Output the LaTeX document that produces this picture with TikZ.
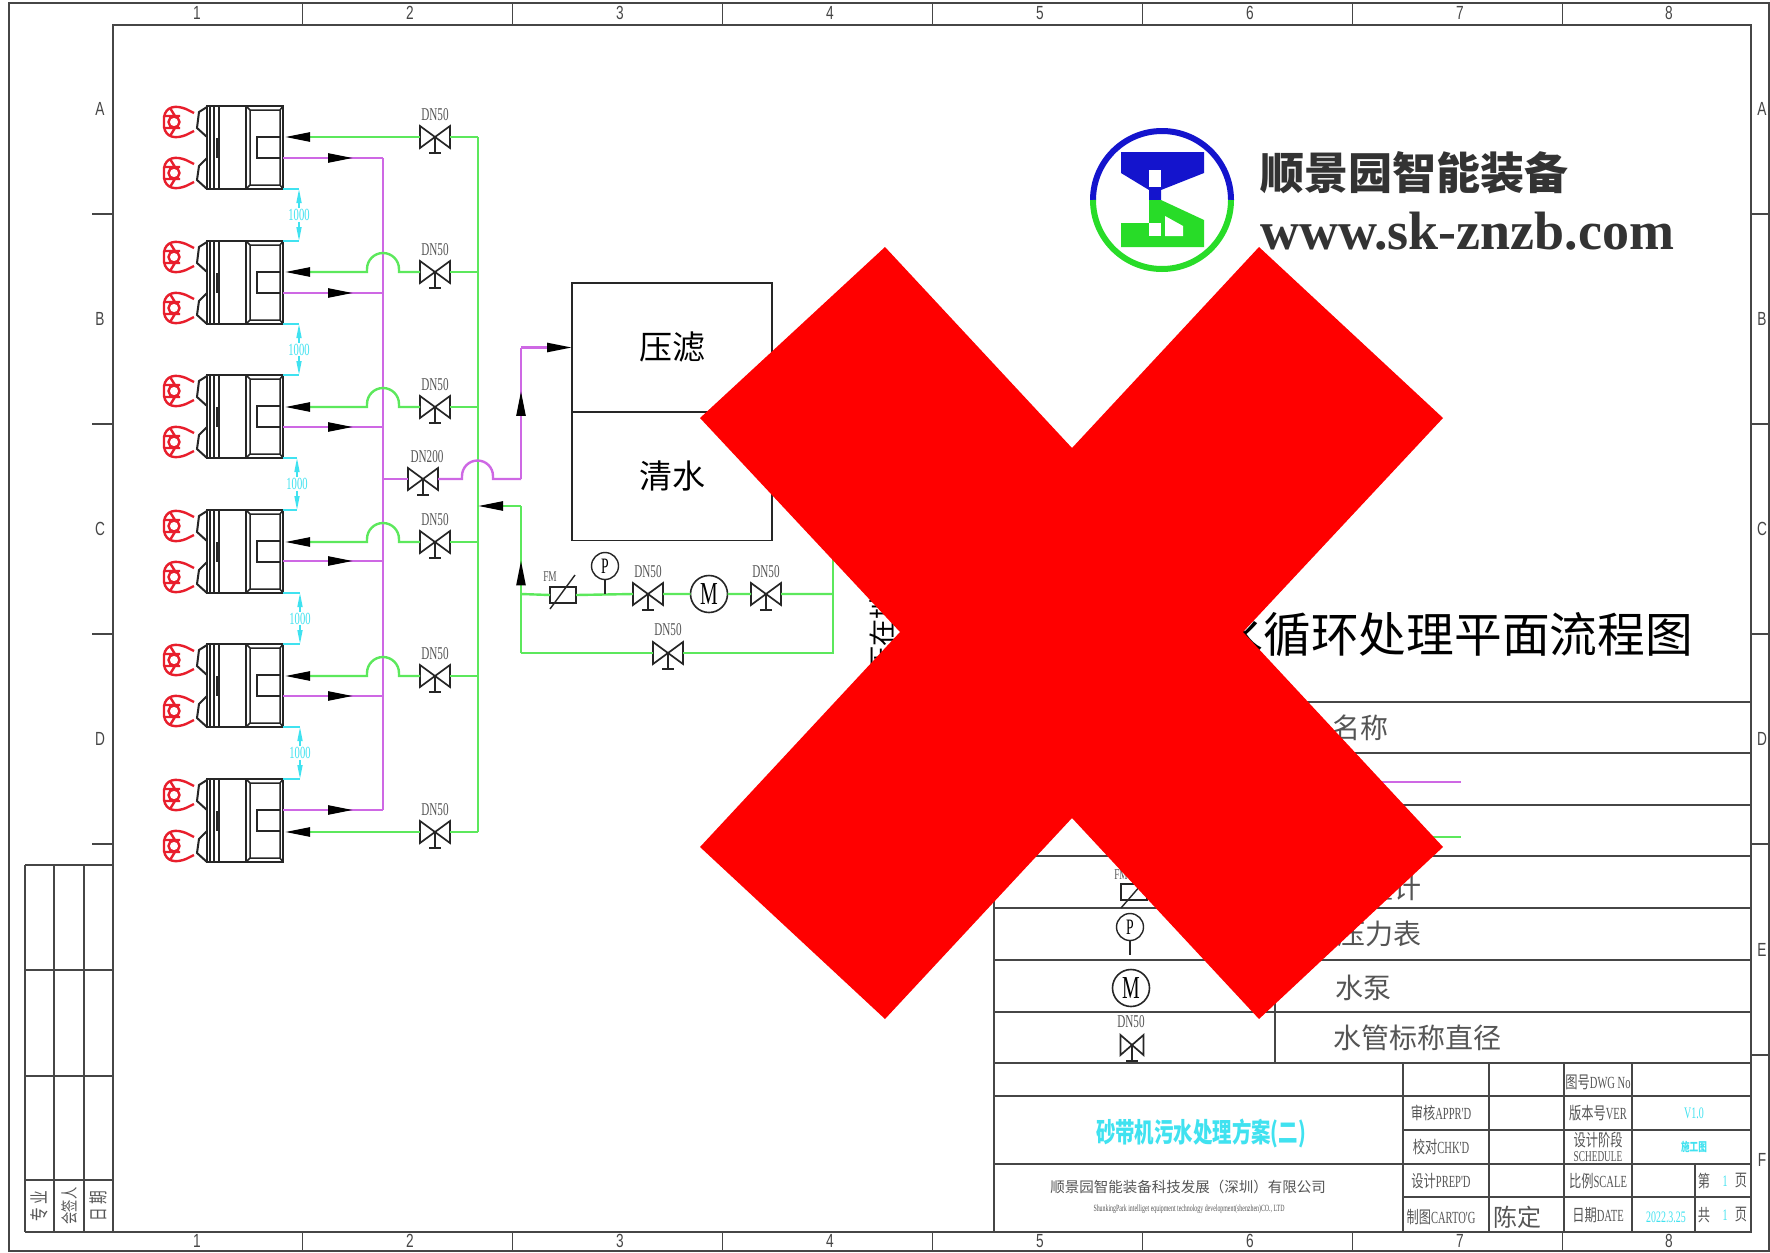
\documentclass[tikz,border=0pt]{standalone}
\usepackage{fontspec}
\usepackage{tikz}
\usetikzlibrary{arrows.meta,decorations.markings}
\setmainfont{Liberation Sans}
\newfontfamily\cjk{Noto Sans CJK SC}
\newfontfamily\cjkn[FakeStretch=0.72]{Noto Sans CJK SC}
\newfontfamily\dnfont[FakeStretch=0.62]{Liberation Serif}
\newfontfamily\edgefont[FakeStretch=0.72]{Liberation Sans}
\newfontfamily\webfont{Liberation Serif}
\definecolor{pipegreen}{RGB}{92, 232, 92}
\definecolor{pipeviolet}{RGB}{206, 104, 228}
\definecolor{dimcyan}{RGB}{64, 226, 240}
\definecolor{gripred}{RGB}{232, 30, 44}
\definecolor{framegray}{RGB}{70, 70, 70}
\definecolor{textgray}{RGB}{85, 85, 85}
\definecolor{logoblue}{RGB}{20, 20, 205}
\definecolor{logogreen}{RGB}{40, 220, 40}
\definecolor{crossred}{RGB}{255, 0, 0}
\newcommand{\sz}[1]{\fontsize{#1}{#1}\selectfont}
\tikzset{
  greenpipe/.style={draw=pipegreen, line width=2.4pt},
  violetpipe/.style={draw=pipeviolet, line width=2.4pt},
  flowtip/.style={-{Stealth[length=25pt,width=9pt,inset=0pt,color=black]}},
  flowat/.style={postaction={decorate}, decoration={markings,
      mark=at position #1 with {\arrow{Stealth[length=25pt,width=9pt,inset=0pt,color=black]}}}},
  frameline/.style={draw=framegray, line width=1.8pt},
  thinline/.style={draw=black!85, line width=1.4pt},
  valvebox/.style={inner sep=0pt, outer sep=0pt, minimum width=30pt, minimum height=22pt},
  unitbody/.style={draw=black!85, line width=2pt, inner sep=0pt, outer sep=0pt, minimum width=76pt, minimum height=83pt},
  tank/.style={draw=black!85, line width=1.6pt, inner sep=0pt, outer sep=0pt, minimum width=200pt, minimum height=129pt, font=\cjk\sz{33}},
  gauge/.style={circle, draw=black!85, line width=1.4pt, fill=white, inner sep=0pt, outer sep=0pt, minimum size=27pt, font=\dnfont\sz{22}},
  pump/.style={circle, draw=black!85, line width=1.6pt, fill=white, inner sep=0pt, outer sep=0pt, minimum size=37pt, font=\dnfont\sz{32}},
  flowmeter/.style={draw=black!85, line width=1.6pt, fill=white, inner sep=0pt, outer sep=0pt, minimum width=26pt, minimum height=16pt},
  dnlabel/.style={font=\dnfont\sz{18}, text=textgray, inner sep=0pt},
  dimlabel/.style={font=\dnfont\sz{17}, text=dimcyan, inner sep=1pt},
  dimline/.style={draw=dimcyan, line width=1.6pt, -{Stealth[length=14pt,width=5pt,inset=0pt]}},
  edgelabel/.style={font=\edgefont\sz{19}, text=framegray, inner sep=0pt},
  blockcn/.style={font=\cjkn\sz{17}, text=textgray, inner sep=0pt},
  blockfill/.style={font=\dnfont\sz{16}, text=dimcyan, inner sep=0pt},
  legendtext/.style={font=\cjk\sz{28}, text=textgray, anchor=west, inner sep=0pt}
}
% valve: optional node keys, name, centre
\newcommand{\valve}[3][]{%
  \node[valvebox,#1] (#2) at (#3) {};
  \draw[thinline, line width=1.7pt, fill=white] (#2.north west) -- (#2.south east) -- (#2.north east) -- (#2.south west) -- cycle;
  \draw[thinline] (#2.center) -- ++(0,16) ++(-6,0) -- ++(12,0);
}
% gripper head in front of a unit
\newcommand{\gripper}[2]{%
  \begin{scope}[shift={(#1,#2)}, draw=gripred, line width=2.4pt]
    \draw (16,-9) -- (8,-13) .. controls (-2,-17) and (-12,-16) .. (-14,-5) -- (-14,5) .. controls (-12,16) and (-2,17) .. (8,13) -- (16,9);
    \draw (-4,0) circle (5.5);
    \draw (-14,-6) -- (2,-6) (-14,6) -- (2,6) (-8,-14) -- (-3,-6) (-8,14) -- (-3,6);
  \end{scope}
}
% sander unit: name, top edge
\newcommand{\unit}[2]{%
  \node[unitbody] (#1) at (245,#2+41.5) {};
  \begin{scope}[shift={(207,#2)}, black!85, line width=1.5pt]
    \draw (3,0) -- (3,83) (7,0) -- (7,83);
    \draw[line width=2.2pt] (12,0) -- (12,83) (39,0) -- (39,83);
    \draw (43,4) rectangle (73,79) (39,0) -- (43,4) (76,0) -- (73,4) (39,83) -- (43,79) (76,83) -- (73,79);
    \draw (73,31) -- (50,31) -- (50,52) -- (73,52);
    \draw[line width=3pt] (10,32) -- (10,52);
    \draw[line width=2pt] (0,1) -- (-8,6) -- (-10,22) -- (0,31) (0,52) -- (-8,60) -- (-10,74) -- (0,83);
  \end{scope}
  \gripper{178}{#2+16}
  \gripper{178}{#2+67}
}
\begin{document}
\begin{tikzpicture}[x=1pt, y=-1pt]
  \useasboundingbox (0,0) rectangle (1770,1253);
  \fill[white] (0,0) rectangle (1770,1253);
  % Drawing frame
  \draw[frameline] (9,3) rectangle (1769,1251);
  \draw[frameline] (113,25) rectangle (1751,1232);
  \foreach \x in {302.5,512.5,722.5,932.5,1142.5,1352.5,1562.5} {
    \draw[frameline] (\x,3) -- (\x,25) (\x,1232) -- (\x,1251);
  }
  \foreach \y in {214,424,634,844} {\draw[frameline] (92,\y) -- (113,\y);}
  \foreach \y in {214,424,634,844,1055} {\draw[frameline] (1751,\y) -- (1769,\y);}
  \foreach \n/\x in {1/197,2/410,3/620,4/830,5/1040,6/1250,7/1460,8/1669} {
    \node[edgelabel] (top\n) at (\x,13) {\n};
    \node[edgelabel] (bottom\n) at (\x,1241) {\n};
  }
  \foreach \l/\y in {A/109,B/319,C/529,D/739} {\node[edgelabel] (left\l) at (100,\y) {\l};}
  \foreach \l/\y in {A/109,B/319,C/529,D/739,E/950,F/1160} {\node[edgelabel] (right\l) at (1762,\y) {\l};}
  % Sign-off strip
  \foreach \x in {25,54,84} {\draw[frameline] (\x,865) -- (\x,1232);}
  \foreach \y in {865,970,1076,1180,1232} {\draw[frameline] (25,\y) -- (113,\y);}
  \node[blockcn, rotate=90, font=\cjkn\sz{19}] (signa) at (39.5,1206) {专\hspace{4pt}业};
  \node[blockcn, rotate=90, font=\cjkn\sz{17}] (signb) at (69,1206) {会签人};
  \node[blockcn, rotate=90, font=\cjkn\sz{19}] (signc) at (98.5,1206) {日\hspace{4pt}期};
  % Units
  \foreach \n/\t in {1/106,2/241,3/375,4/510,5/644,6/779} {\unit{u\n}{\t}}
  % Pipe mains
  \coordinate (gmain) at (478,137);
  \coordinate (gmainend) at (478,832);
  \coordinate (vmain) at (383,158);
  \coordinate (vmainend) at (383,810);
  \draw[violetpipe] (vmain) -- (vmainend);
  \draw[greenpipe] (gmain) -- (gmainend);
  % Branches to the units
  \foreach \n/\gy/\vy in {1/137/158,2/272/293,3/407/427,4/542/561,5/676/696,6/832/810} {
    \valve{v\n}{435,\gy}
    \node[dnlabel] (dn\n) at (435,\gy-22) {DN50};
    \draw[greenpipe] (v\n.east) -- (gmain |- v\n.east);
    \coordinate (ue\n) at (285,\gy);
  }
  \foreach \n/\vy/\p in {1/158/0.7,2/293/0.7,3/427/0.7,4/561/0.7,5/696/0.7,6/810/0.7} {
    \draw[violetpipe, flowat=\p] (u\n.east |- 0,\vy) -- (vmain |- 0,\vy);
  }
  \draw[greenpipe, flowtip] (v1.west) -- (ue1);
  \draw[greenpipe, flowtip] (v6.west) -- (ue6);
  \foreach \n/\gy in {2/272,3/407,4/542,5/676} {
    \draw[greenpipe, flowtip] (v\n.west) -- (399,\gy) -- (399,\gy-3) arc[start angle=0, end angle=-180, radius=16] -- (367,\gy) -- (ue\n);
  }
  % Spacing between units
  \foreach \a/\b/\x in {1/2/299,2/3/299,3/4/297,4/5/300,5/6/300} {
    \coordinate (gap\a) at (\x,0);
    \path (u\a.south east) -- (u\b.north east) coordinate[midway] (mid\a);
    \node[dimlabel] (dim\a) at (gap\a |- mid\a) {1000};
    \draw[dimline] (dim\a.north) -- (dim\a.north |- u\a.south east);
    \draw[dimline] (dim\a.south) -- (dim\a.south |- u\b.north east);
    \draw[dimcyan, draw=dimcyan, line width=1.6pt] (u\a.south east) -- (dim\a.north |- u\a.south east);
    \draw[dimcyan, draw=dimcyan, line width=1.6pt] (u\b.north east) -- (dim\a.south |- u\b.north east);
  }
  % Tanks
  \node[tank] (press) at (672,347.5) {压滤};
  \node[tank] (clean) at (672,476) {清水};
  % Outlet to the press
  \valve{vout}{423,479}
  \node[dnlabel] (dnout) at (427,457) {DN200};
  \coordinate (outrise) at (521,479);
  \coordinate (outturn) at (521,347.5);
  \draw[violetpipe] (vmain |- vout.west) -- (vout.west);
  \draw[violetpipe] (vout.east) -- (462,479) -- (462,476) arc[start angle=180, end angle=360, radius=15.5] -- (493,479) -- (outrise);
  \draw[violetpipe, flowat=0.67] (outrise) -- (outturn);
  \draw[violetpipe, flowtip] (outturn) -- (press.west);
  % Return from the clean tank
  \coordinate (backtop) at (521,506);
  \coordinate (backmid) at (521,594);
  \coordinate (backlow) at (521,653);
  \coordinate (riserlow) at (833,653);
  \coordinate (risermid) at (833,594);
  \coordinate (risertop) at (833,530);
  \node[flowmeter] (fm) at (563,595) {};
  \node[gauge] (pg) at (605,566) {P};
  \valve{va}{648,594}
  \node[pump] (pm) at (709,594) {M};
  \valve{vb}{766,594}
  \valve{vc}{668,653}
  \node[dnlabel] (dna) at (648,572) {DN50};
  \node[dnlabel] (dnb) at (766,572) {DN50};
  \node[dnlabel] (dnc) at (668,630) {DN50};
  \node[dnlabel, font=\dnfont\sz{15}] (fmlabel) at (550,577) {FM};
  \draw[greenpipe] (backlow) -- (vc.west) (vc.east) -- (riserlow) -- (risertop);
  \draw[greenpipe, flowat=0.63] (backlow) -- (backtop);
  \draw[greenpipe, flowtip] (backtop) -- (gmain |- backtop);
  \draw[greenpipe] (backmid) -- (fm.west) (fm.east) -- (va.west) (va.east) -- (pm.west) (pm.east) -- (vb.west) (vb.east) -- (risermid);
  \draw[thinline] (pg.south) -- (pg.south |- backmid);
  \draw[thinline] (550,609) -- (575,575);
  \node[font=\cjk\sz{27}, rotate=90, inner sep=0pt] (tanknote) at (882,633) {压在地};
  % Legend table
  \foreach \y in {702,753,805,856,908,960,1012} {\draw[frameline] (994,\y) -- (1751,\y);}
  \draw[frameline] (994,702) -- (994,1063);
  \draw[frameline] (1275,702) -- (1275,1063);
  \node[legendtext] (lname) at (1332,728) {名称};
  \draw[violetpipe] (1150,782) -- (1461,782);
  \draw[greenpipe] (1150,837) -- (1461,837);
  \node[legendtext] (lfm) at (1337,888) {流量计};
  \node[legendtext] (lpg) at (1337,934) {压力表};
  \node[legendtext] (lpm) at (1335,988) {水泵};
  \node[legendtext] (ldn) at (1333,1038) {水管标称直径};
  \node[flowmeter, fill=none] (keyfm) at (1134,892) {};
  \node[dnlabel, font=\dnfont\sz{15}] (keyfmlabel) at (1121,875) {FM};
  \draw[thinline] (1121,908) -- (1147,878);
  \node[gauge] (keypg) at (1130,927) {P};
  \coordinate (keypgend) at (1130,955);
  \draw[thinline] (keypg.south) -- (keypgend);
  \node[pump] (keypm) at (1131,988) {M};
  \valve[minimum width=23pt, minimum height=20pt]{keyv}{1132,1045}
  \node[dnlabel] (keydn) at (1131,1022) {DN50};
  % Title block
  \draw[frameline] (994,1063) rectangle (1751,1232);
  \draw[frameline] (994,1096) -- (1751,1096) (994,1164) -- (1751,1164) (1403,1130) -- (1751,1130) (1403,1197) -- (1751,1197);
  \foreach \x in {1403,1489,1564,1632} {\draw[frameline] (\x,1063) -- (\x,1232);}
  \draw[frameline] (1695,1164) -- (1695,1232);
  \node[font=\cjkn\bfseries\sz{27}, text=dimcyan, inner sep=0pt] (project) at (1201,1133) {砂带机污水处理方案(二)};
  \node[blockcn, font=\cjk\sz{14.5}] (company) at (1188,1187) {顺景园智能装备科技发展（深圳）有限公司};
  \node[dnlabel, font=\dnfont\sz{9.5}] (companyen) at (1189,1209) {ShunkingPark intelliget equipment technology development(shenzhen)CO., LTD};
  \node[blockcn] (appr) at (1441,1113) {审核\dnfont APPR'D};
  \node[blockcn] (chk) at (1441,1147) {校对\dnfont CHK'D};
  \node[blockcn] (prep) at (1441,1181) {设计\dnfont PREP'D};
  \node[blockcn] (carto) at (1441,1217) {制图\dnfont CARTO'G};
  \node[blockcn, font=\cjk\sz{24}] (drawer) at (1517,1217) {陈定};
  \node[blockcn] (dwg) at (1598,1082) {图号\dnfont DWG No};
  \node[blockcn] (ver) at (1598,1113) {版本号\dnfont VER};
  \node[blockcn] (stage) at (1598,1140) {设计阶段};
  \node[dnlabel, font=\dnfont\sz{15}] (schedule) at (1598,1157) {SCHEDULE};
  \node[blockcn] (scale) at (1598,1181) {比例\dnfont SCALE};
  \node[blockcn] (date) at (1598,1215) {日期\dnfont DATE};
  \node[blockfill] (version) at (1694,1113) {V1.0};
  \node[blockfill, font=\cjkn\bfseries\sz{12}] (phase) at (1694,1147) {施工图};
  \node[blockfill] (dateval) at (1666,1217) {2022.3.25};
  \node[blockcn] (pa) at (1704,1181) {第};
  \node[blockfill] (pb) at (1725,1181) {1};
  \node[blockcn] (pc) at (1741,1181) {页};
  \node[blockcn] (pd) at (1704,1215) {共};
  \node[blockfill] (pe) at (1725,1215) {1};
  \node[blockcn] (pf) at (1741,1215) {页};
  % Sheet title
  \node[font=\cjk\sz{47.7}, anchor=east, inner sep=0pt] (sheet) at (1693,635) {水循环处理平面流程图};
  % Logo
  \fill[logoblue] (1121,152) -- (1204,152) -- (1204,173) -- (1161,190) -- (1161,200) -- (1149,200) -- (1149,190) -- (1121,173) -- cycle;
  \fill[white] (1149,170) rectangle (1161,187);
  \fill[logogreen] (1149,200) -- (1161,200) -- (1204,220) -- (1204,247) -- (1121,247) -- (1121,223) -- (1149,223) -- cycle;
  \fill[white] (1149,223) rectangle (1161,236);
  \fill[white] (1165,216) -- (1183,226) -- (1183,236) -- (1165,236) -- cycle;
  \draw[logoblue, line width=6pt] (1093,200) arc[start angle=180, end angle=360, radius=69];
  \draw[logogreen, line width=6pt] (1093,200) arc[start angle=180, end angle=0, radius=69];
  \node[font=\cjk\bfseries\sz{44}, text=black!80, anchor=west, inner sep=0pt] (brand) at (1260,173) {顺景园智能装备};
  \node[font=\webfont\bfseries\sz{54}, text=black!80, anchor=west, inner sep=0pt] (website) at (1260,231) {www.sk-znzb.com};
  % Red cross
  \fill[crossred] (885,247) -- (1072,448) -- (1259,247) -- (1443,418) -- (1243,632) -- (1443,847) -- (1259,1019) -- (1072,818) -- (885,1019) -- (700,847) -- (900,632) -- (700,418) -- cycle;
\end{tikzpicture}
\end{document}
